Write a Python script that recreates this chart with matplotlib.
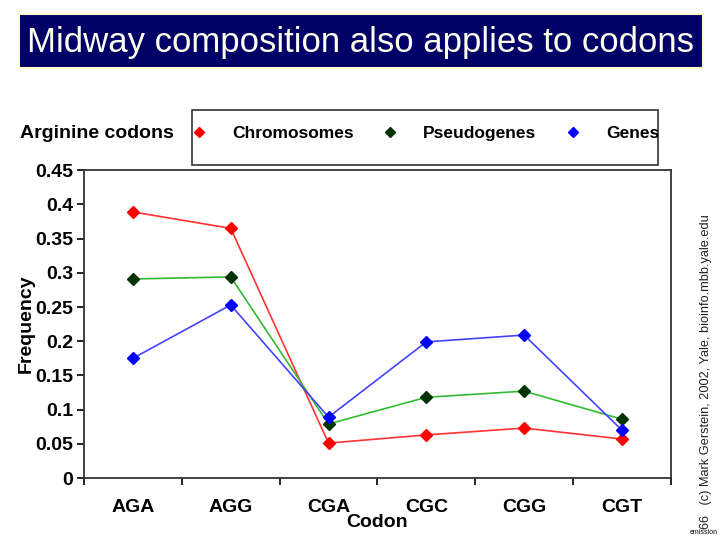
import matplotlib
matplotlib.use('Agg')
import matplotlib.pyplot as plt
from matplotlib.patches import Rectangle
from matplotlib.lines import Line2D

plt.rcParams['font.family'] = ['Liberation Sans', 'DejaVu Sans']

# data
codons = ['AGA', 'AGG', 'CGA', 'CGC', 'CGG', 'CGT']
chromosomes = [0.389, 0.365, 0.051, 0.063, 0.073, 0.057]
pseudogenes = [0.291, 0.294, 0.079, 0.118, 0.127, 0.086]
genes = [0.175, 0.253, 0.089, 0.199, 0.209, 0.070]
y_ticks = [0, 0.05, 0.1, 0.15, 0.2, 0.25, 0.3, 0.35, 0.4, 0.45]
y_labels = ['0', '0.05', '0.1', '0.15', '0.2', '0.25', '0.3', '0.35', '0.4', '0.45']

fig = plt.figure(figsize=(7.2, 5.4), dpi=100)

# title banner
fig.patches.append(Rectangle((0.0264, 0.874), 0.95, 0.1, transform=fig.transFigure,
                             facecolor='#000066', edgecolor='#ffffcc', linewidth=1.5))
fig.text(0.501, 0.922, 'Midway composition also applies to codons', color='#ffffee',
         fontsize=25, ha='center', va='center')

ax = fig.add_axes([0.1167, 0.1148, 0.815, 0.570])
x = range(len(codons))
series = [(chromosomes, '#ff3333', '#ff0000', 'Chromosomes'),
          (pseudogenes, '#33bb33', '#003300', 'Pseudogenes'),
          (genes, '#4444ff', '#0000ff', 'Genes')]
for vals, lc, mc, name in series:
    ax.plot(x, vals, color=lc, linewidth=1.2, marker='D', markersize=6,
            markerfacecolor=mc, markeredgecolor=mc, label=name)

ax.set_xlim(-0.5, len(codons) - 0.5)
ax.set_ylim(0, 0.45)
ax.set_yticks(y_ticks)
ax.set_yticklabels(y_labels, fontsize=14, fontweight='bold')
ax.set_xticks(list(x))
ax.set_xticklabels(codons, fontsize=14, fontweight='bold')
ax.tick_params(axis='x', which='major', length=0, pad=15)
ax.set_xticks([i - 0.5 for i in range(len(codons) + 1)], minor=True)
ax.tick_params(axis='x', which='minor', length=5, width=1.2, direction='out')
ax.tick_params(axis='y', length=5, width=1.2, direction='out', pad=3)
for s in ax.spines.values():
    s.set_linewidth(1.3)
    s.set_color('#333333')
ax.set_xlabel('Codon', fontsize=14, fontweight='bold', labelpad=-1)
ax.set_ylabel('Frequency', fontsize=14, fontweight='bold', labelpad=0)

# legend box drawn by hand, legend itself without frame
fig.patches.append(Rectangle((192 / 720, 1 - 165 / 540), 466 / 720, 55 / 540,
                             transform=fig.transFigure, facecolor='white',
                             edgecolor='#333333', linewidth=1.2))
handles = [Line2D([], [], linestyle='none', marker='D', markersize=5,
                  markerfacecolor=mc, markeredgecolor=mc) for _, _, mc, _ in series]
fig.legend(handles, [s[3] for s in series], loc='center',
           bbox_to_anchor=(0.590, 0.752), ncol=3, frameon=False,
           handlelength=1.0, handletextpad=1.4, columnspacing=1.6,
           prop={'weight': 'bold', 'size': 12.5})
fig.text(0.028, 0.752, 'Arginine codons', fontsize=14, fontweight='bold', va='center')

fig.text(0.981, 0.311, '66   (c) Mark Gerstein, 2002, Yale, bioinfo.mbb.yale.edu',
         rotation=90, fontsize=9.2, color='#222222', ha='center', va='center')
fig.text(0.977, 0.013, 'emission', fontsize=5, ha='center', va='center')

fig.savefig('out.png', dpi=100)
